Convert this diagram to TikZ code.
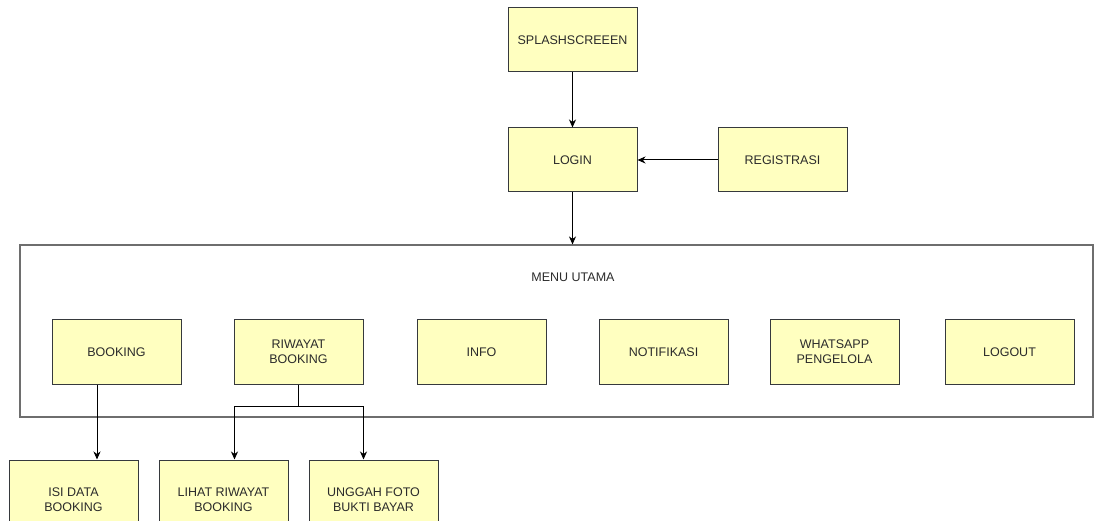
\documentclass[tikz,border=0pt]{standalone}
\usepackage{fontspec}
\setmainfont{Liberation Sans}
\usetikzlibrary{arrows.meta, positioning}
\definecolor{kuning}{HTML}{FFFFC0}
\definecolor{garis}{HTML}{36393D}
\definecolor{teks}{HTML}{2B2B2B}
\definecolor{bingkai}{HTML}{6E6E6E}
\tikzset{
  % kotak halaman aplikasi
  box/.style={draw=garis, fill=kuning, line width=1pt, minimum width=129pt,
    minimum height=64pt, inner sep=2pt, align=center, text=teks,
    font=\fontsize{12.5}{15}\selectfont},
  boxtinggi/.style={box, minimum height=80pt},
  % wadah menu utama
  wadah/.style={draw=bingkai, line width=1.1pt, minimum width=1073pt,
    minimum height=172pt, inner sep=0pt},
  lbl/.style={text=teks, font=\fontsize{12.5}{15}\selectfont},
  % alur antar halaman
  alur/.style={-{Stealth[length=8pt, width=7pt, inset=2.5pt]}, line width=1pt, black},
  cabang/.style={line width=1pt, black},
}

\begin{document}
\begin{tikzpicture}[x=1pt, y=-1pt]
  \useasboundingbox (0,0) rectangle (1103,521);
  \clip (0,0) rectangle (1103,521);
  \node[box] (splash) at (572.5,40) {SPLASHSCREEEN};
  \node[box, below=55pt of splash] (login) {LOGIN};
  \node[box, right=80pt of login] (registrasi) {REGISTRASI};
  \draw[alur] (splash) -- (login);
  \draw[alur] (registrasi) -- (login);
  % menu utama
  \node[wadah] (menu) at (556.5,331) {};
  \node[lbl] (judul) at (573,277) {MENU UTAMA};
  \draw[alur] (login.south) -- (login.south |- menu.north);
  \node[box] (booking) at (116.5,352) {BOOKING};
  \node[box] (riwayat) at (298.5,352) {RIWAYAT\\BOOKING};
  \node[box] (info) at (481.5,352) {INFO};
  \node[box] (notifikasi) at (663.5,352) {NOTIFIKASI};
  \node[box] (whatsapp) at (834.5,352) {WHATSAPP\\PENGELOLA};
  \node[box] (logout) at (1009.5,352) {LOGOUT};
  % sub halaman
  \node[boxtinggi] (isidata) at (73.5,500) {ISI DATA\\BOOKING};
  \node[boxtinggi] (lihat) at (223.5,500) {LIHAT RIWAYAT\\BOOKING};
  \node[boxtinggi] (unggah) at (373.5,500) {UNGGAH FOTO\\BUKTI BAYAR};
  \draw[alur] ([xshift=-19.5pt]booking.south) -- ([xshift=-19.5pt]booking.south |- isidata.north);
  \draw[cabang] (riwayat.south) -- ++(0,22) coordinate (titik);
  \draw[alur] (titik) -| ([xshift=1pt]riwayat.south west |- lihat.north);
  \draw[alur] (titik) -| (riwayat.south east |- unggah.north);
\end{tikzpicture}
\end{document}
